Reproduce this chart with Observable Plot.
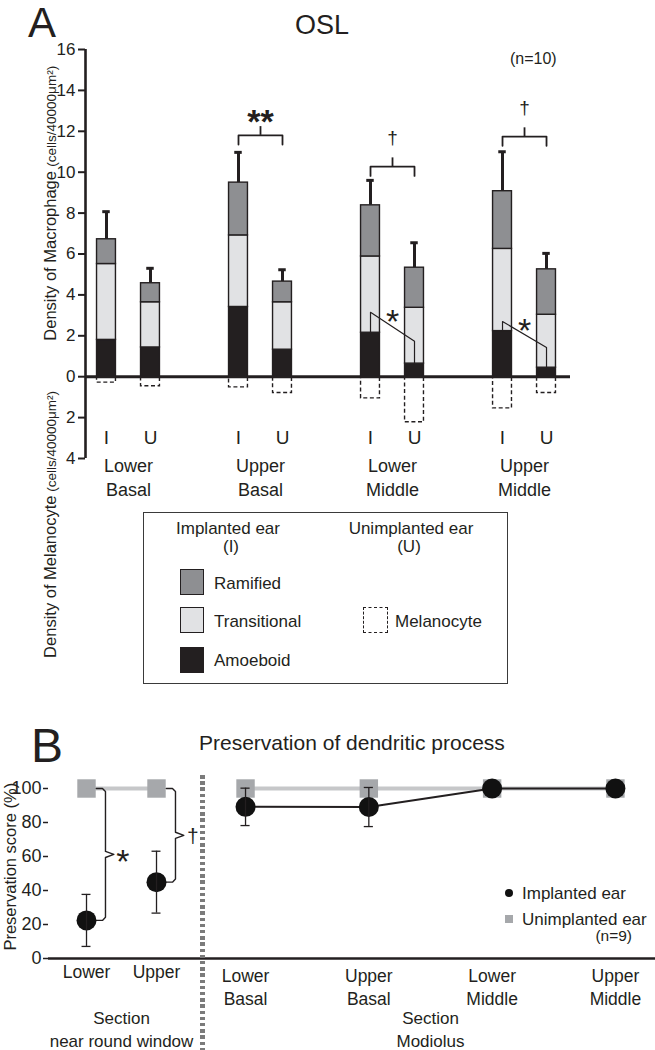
<!DOCTYPE html>
<html>
<head>
<meta charset="utf-8">
<script src="https://cdn.jsdelivr.net/npm/d3@7"></script>
<script src="https://cdn.jsdelivr.net/npm/@observablehq/plot@0.6"></script>
<style>
  body { margin: 0; background: #fff; }
  #root { position: relative; width: 655px; height: 1050px; overflow: hidden; background: #fff;
          font-family: "Liberation Sans", Arial, Helvetica, sans-serif; color: #231f20; }
  .abs { position: absolute; white-space: nowrap; line-height: 1; }
  .ctr { text-align: center; width: 220px; }
  .sw { position: absolute; box-sizing: border-box; width: 24px; height: 26px; border: 1.5px solid #231f20; }
</style>
</head>
<body>
<div id="root"></div>
<script>
// ---------------- Panel A data ----------------
const regions = ["Lower Basal", "Upper Basal", "Lower Middle", "Upper Middle"];
const ears = ["I", "U"];
const types = ["Amoeboid", "Transitional", "Ramified"];
const typeColors = ["#231f20", "#e1e2e4", "#8e8f92"];
// bar order: LB-I, LB-U, UB-I, UB-U, LM-I, LM-U, UM-I, UM-U
const amoeboid     = [1.80, 1.43, 3.41, 1.32, 2.15, 0.64, 2.23, 0.44];
const transitional = [3.71, 2.21, 3.50, 2.32, 3.73, 2.73, 4.02, 2.59];
const ramified     = [1.21, 0.93, 2.58, 1.01, 2.50, 1.96, 2.82, 2.22];
const macroSem     = [1.35, 0.73, 1.48, 0.58, 1.22, 1.22, 1.93, 0.78];
const melanocyte   = [0.29, 0.47, 0.52, 0.80, 1.06, 2.23, 1.55, 0.80];
const yTicksA = [-4, -2, 0, 2, 4, 6, 8, 10, 12, 14, 16];
// significance annotations (panel A)
const bracketRegions = ["Upper Basal", "Lower Middle", "Upper Middle"];
const bracketLevel   = [11.8, 10.27, 11.74];
const bracketMark    = ["**", "\u2020", "\u2020"];
const bracketMarkY   = [13.1, 12.03, 13.5];
const innerRegions   = ["Lower Middle", "Upper Middle"];
const innerLevelI    = [3.15, 2.7];
const innerLevelU    = [1.73, 1.43];
const innerStarY     = [3.33, 2.89];

// ---------------- Panel B data ----------------
const rwSections = ["Lower", "Upper"];
const rwImplanted = [22.4, 44.9];
const rwImplantedSem = [15.3, 18.2];
const rwUnimplanted = [100, 100];
const modSections = ["Lower Basal", "Upper Basal", "Lower Middle", "Upper Middle"];
const modImplanted = [89.2, 89.1, 100, 100];
const modImplantedSem = [11, 11.5, 0, 0];
const modUnimplanted = [100, 100, 100, 100];
const yTicksB = [0, 20, 40, 60, 80, 100];
const rwSigMark = ["*", "\u2020"];
const rwSigMarkY = [64.7, 77];

// ---------------- helpers ----------------
const REG = "'Liberation Sans', Arial, Helvetica, sans-serif";
const INK = "#231f20";
const posOf = (region, ear) => regions.indexOf(region) * 3 + ears.indexOf(ear);

const bars = [];
regions.forEach((r, ri) => ears.forEach((e, ei) => {
  const k = ri * 2 + ei;
  const b = {region: r, ear: e, pos: posOf(r, e), amo: amoeboid[k], tra: transitional[k], ram: ramified[k],
             sem: macroSem[k], mel: melanocyte[k]};
  b.total = b.amo + b.tra + b.ram;
  bars.push(b);
}));
const segs = bars.flatMap(b => {
  let acc = 0;
  return [[types[0], b.amo], [types[1], b.tra], [types[2], b.ram]].map(([t, v]) => ({pos: b.pos, type: t, y1: acc, y2: (acc += v)}));
});
const HW = 0.215; // half bar width (x units)
const CAP = 0.085;

const brackets = bracketRegions.flatMap((r, i) => {
  const a = posOf(r, "I"), b = posOf(r, "U"), y = bracketLevel[i];
  return [{id: i, x: a, y: y - 0.45}, {id: i, x: a, y}, {id: i, x: b, y}, {id: i, x: b, y: y - 0.45}];
});
const bracketTicks = bracketRegions.map((r, i) => ({x: (posOf(r, "I") + posOf(r, "U")) / 2, y1: bracketLevel[i], y2: bracketLevel[i] + 0.43, mark: bracketMark[i], my: bracketMarkY[i]}));
const inner = innerRegions.flatMap((r, i) => {
  const bI = bars.find(b => b.region === r && b.ear === "I");
  const bU = bars.find(b => b.region === r && b.ear === "U");
  return [{id: i, x: bI.pos, y: bI.amo}, {id: i, x: bI.pos, y: innerLevelI[i]}, {id: i, x: bU.pos, y: innerLevelU[i]}, {id: i, x: bU.pos, y: bU.amo}];
});
const innerStars = innerRegions.map((r, i) => ({x: (posOf(r, "I") + posOf(r, "U")) / 2, y: innerStarY[i]}));

const xDomA = [-0.477, 10.545];

const styleBase = {fontFamily: REG, fontSize: "17px", color: INK, background: "transparent", overflow: "visible"};

const plotA = Plot.plot({
  width: 655, height: 700,
  marginLeft: 85, marginRight: 85, marginTop: 49, marginBottom: 242,
  x: {domain: xDomA, axis: null},
  y: {domain: [-4, 16], axis: null},
  color: {domain: types, range: typeColors},
  style: styleBase,
  marks: [
    Plot.axisY({ticks: yTicksA, tickFormat: d => Math.abs(d), tickSize: 7, tickPadding: 3, fontSize: 17, strokeWidth: 2, label: null}),
    Plot.ruleX([xDomA[0]], {y1: -4, y2: 16, strokeWidth: 2.6, stroke: INK}),
    // melanocyte (dashed, below zero)
    Plot.rect(bars, {x1: d => d.pos - HW, x2: d => d.pos + HW, y1: 0, y2: d => -d.mel, fill: "none", stroke: INK, strokeWidth: 1.4, strokeDasharray: "4,2.6"}),
    // error bars
    Plot.ruleX(bars, {x: "pos", y1: "total", y2: d => d.total + d.sem, strokeWidth: 3, stroke: INK}),
    Plot.ruleY(bars, {y: d => d.total + d.sem, x1: d => d.pos - CAP, x2: d => d.pos + CAP, strokeWidth: 3, stroke: INK}),
    // stacked macrophage bars
    Plot.rect(segs, {x1: d => d.pos - HW, x2: d => d.pos + HW, y1: "y1", y2: "y2", fill: "type", stroke: INK, strokeWidth: 1.4}),
    Plot.ruleY([0], {strokeWidth: 3, stroke: INK}),
    // brackets
    Plot.line(brackets, {x: "x", y: "y", z: "id", stroke: INK, strokeWidth: 1.8}),
    Plot.ruleX(bracketTicks, {x: "x", y1: "y1", y2: "y2", stroke: INK, strokeWidth: 1.8}),
    Plot.text(bracketTicks.filter(d => d.mark === "**"), {x: "x", y: "my", text: "mark", fontSize: 34, fontWeight: "bold", lineAnchor: "top"}),
    Plot.text(bracketTicks.filter(d => d.mark !== "**"), {x: "x", y: "my", text: "mark", fontSize: 19, lineAnchor: "top"}),
    // inner amoeboid comparisons
    Plot.line(inner, {x: "x", y: "y", z: "id", stroke: INK, strokeWidth: 1.2}),
    Plot.text(innerStars, {x: "x", y: "y", text: () => "*", fontSize: 34, lineAnchor: "top"}),
    // labels
    Plot.text(bars, {x: "pos", y: -3, text: "ear", fontSize: 19, lineAnchor: "middle"}),
    Plot.text(regions, {x: (d, i) => i * 3 + 0.5, y: -3.85, text: d => d.replace(" ", "\n"), fontSize: 18, lineAnchor: "top", lineHeight: 1.33}),
    Plot.text(["(n=10)"], {x: 9.7, y: 15.85, text: d => d, fontSize: 16, lineAnchor: "top"}),
    // y-axis titles
    Plot.text(["Density of Macrophage"], {frameAnchor: "left", dx: -30, y: 1.76, text: d => d, rotate: -90, textAnchor: "start", lineAnchor: "bottom", fontSize: 16.5}),
    Plot.text(["(cells/40000\u03bcm\u00b2)"], {frameAnchor: "left", dx: -30, y: 10.27, text: d => d, rotate: -90, textAnchor: "start", lineAnchor: "bottom", fontSize: 13.5}),
    Plot.text(["Density of Melanocyte"], {frameAnchor: "left", dx: -30, y: -13.75, text: d => d, rotate: -90, textAnchor: "start", lineAnchor: "bottom", fontSize: 16.5}),
    Plot.text(["(cells/40000\u03bcm\u00b2)"], {frameAnchor: "left", dx: -30, y: -5.63, text: d => d, rotate: -90, textAnchor: "start", lineAnchor: "bottom", fontSize: 13.5})
  ]
});

// ---------------- Panel B ----------------
const rwRows = rwSections.map((s, i) => ({i, s, imp: rwImplanted[i], sem: rwImplantedSem[i], unimp: rwUnimplanted[i]}));
const modRows = modSections.map((s, i) => ({i, s, imp: modImplanted[i], sem: modImplantedSem[i], unimp: modUnimplanted[i]}));

function brace(id, xc, yTop, yBot) {
  const e = xc + 0.14, v = xc + 0.271, t = xc + 0.39, rx = 0.043, ry = 1.8, yM = (yTop + yBot) / 2;
  return [[e, yTop], [v - rx, yTop], [v, yTop - ry], [v, yM + ry], [t, yM], [v, yM - ry], [v, yBot + ry], [v - rx, yBot], [e, yBot]]
    .map(([x, y]) => ({id, x, y}));
}
const braces = rwRows.flatMap(d => brace(d.i, d.i, d.unimp, d.imp));
const rwMarks = rwRows.map((d, i) => ({x: d.i + 0.52, y: rwSigMarkY[i], m: rwSigMark[i]}));

function capRows(rows) {
  return rows.filter(d => d.sem > 0).flatMap(d => [{i: d.i, y: d.imp - d.sem}, {i: d.i, y: d.imp + d.sem}]);
}

const plotBL = Plot.plot({
  width: 202, height: 280,
  marginLeft: 48, marginRight: 0, marginTop: 18, marginBottom: 92,
  x: {domain: [-0.543, 1.657], axis: null},
  y: {domain: [0, 100], axis: null},
  style: styleBase,
  marks: [
    Plot.axisY({ticks: yTicksB, tickSize: 5, tickPadding: 2, fontSize: 18, strokeWidth: 1.5, label: null}),
    Plot.ruleY([0], {strokeWidth: 2.5, stroke: INK}),
    Plot.line(rwRows, {x: "i", y: "unimp", stroke: "#c6c7c9", strokeWidth: 4}),
    Plot.dot(rwRows, {x: "i", y: "unimp", symbol: "square", r: 10.4, fill: "#a6a8ab"}),
    Plot.line(braces, {x: "x", y: "y", z: "id", stroke: INK, strokeWidth: 1.4}),
    Plot.dot(rwRows, {x: "i", y: "imp", r: 10, fill: "#111"}),
    Plot.ruleX(rwRows, {x: "i", y1: d => d.imp - d.sem, y2: d => d.imp + d.sem, strokeWidth: 1.3, stroke: INK}),
    Plot.ruleY(capRows(rwRows), {y: "y", x1: d => d.i - 0.064, x2: d => d.i + 0.064, strokeWidth: 1.3, stroke: INK}),
    Plot.text(rwMarks.filter(d => d.m === "*"), {x: "x", y: "y", text: "m", fontSize: 34, lineAnchor: "top"}),
    Plot.text(rwMarks.filter(d => d.m !== "*"), {x: "x", y: "y", text: "m", fontSize: 21, lineAnchor: "top"}),
    Plot.text(rwRows, {x: "i", y: -4.1, text: "s", fontSize: 17.5, lineAnchor: "top"}),
    Plot.text(["Section\nnear round window"], {x: 0.5, y: -28.9, text: d => d, fontSize: 17, lineAnchor: "top", lineHeight: 1.35}),
    Plot.text(["Preservation score (%)"], {frameAnchor: "left", dx: -33, y: 54, text: d => d, rotate: -90, textAnchor: "middle", lineAnchor: "bottom", fontSize: 16.5})
  ]
});

const plotBR = Plot.plot({
  width: 453, height: 280,
  marginLeft: 0, marginRight: 0, marginTop: 18, marginBottom: 92,
  x: {domain: [-0.349, 3.325], axis: null},
  y: {domain: [0, 100], axis: null},
  style: styleBase,
  marks: [
    Plot.ruleY([0], {strokeWidth: 2.5, stroke: INK}),
    Plot.line(modRows, {x: "i", y: "unimp", stroke: "#c6c7c9", strokeWidth: 4}),
    Plot.dot(modRows, {x: "i", y: "unimp", symbol: "square", r: 10.4, fill: "#a6a8ab"}),
    Plot.line(modRows, {x: "i", y: "imp", stroke: INK, strokeWidth: 2}),
    Plot.dot(modRows, {x: "i", y: "imp", r: 10, fill: "#111"}),
    Plot.ruleX(modRows.filter(d => d.sem > 0), {x: "i", y1: d => d.imp - d.sem, y2: d => d.imp + d.sem, strokeWidth: 1.3, stroke: INK}),
    Plot.ruleY(capRows(modRows), {y: "y", x1: d => d.i - 0.037, x2: d => d.i + 0.037, strokeWidth: 1.3, stroke: INK}),
    Plot.text(modRows, {x: "i", y: -4.1, text: d => d.s.replace(" ", "\n"), fontSize: 17.5, lineAnchor: "top", lineHeight: 1.33}),
    Plot.text(["Section\nModiolus"], {x: 1.5, y: -28.9, text: d => d, fontSize: 17, lineAnchor: "top", lineHeight: 1.35})
  ]
});

// ---------------- assemble ----------------
const root = document.getElementById("root");
function place(node, left, top, w) {
  const d = document.createElement("div");
  d.style.position = "absolute"; d.style.left = left + "px"; d.style.top = top + "px";
  if (w) d.style.width = w + "px";
  d.appendChild(node); root.appendChild(d); return d;
}
place(plotA, 0, 0, 655);
place(plotBL, 0, 770, 202);
place(plotBR, 202, 770, 453);

function html(str) { const t = document.createElement("template"); t.innerHTML = str.trim(); return t.content.firstChild; }
const overlay = [
  `<div class="abs" style="left:28px;top:1.5px;font-size:42px;">A</div>`,
  `<div class="abs ctr" style="left:212px;top:12px;font-size:27px;">OSL</div>`,
  // legend box
  `<div style="position:absolute;left:143px;top:512px;width:365px;height:172px;box-sizing:border-box;border:1.5px solid #3a3a3a;"></div>`,
  `<div class="abs ctr" style="left:118px;top:519.5px;font-size:17px;">Implanted ear</div>`,
  `<div class="abs ctr" style="left:121px;top:538px;font-size:17px;">(I)</div>`,
  `<div class="abs ctr" style="left:301px;top:519.5px;font-size:17px;">Unimplanted ear</div>`,
  `<div class="abs ctr" style="left:299px;top:538px;font-size:17px;">(U)</div>`,
  `<div class="sw" style="left:180px;top:569px;background:${typeColors[2]};"></div>`,
  `<div class="sw" style="left:180px;top:607px;background:${typeColors[1]};"></div>`,
  `<div class="sw" style="left:180px;top:647px;background:${typeColors[0]};"></div>`,
  `<div class="sw" style="left:363px;top:607px;border:1.5px dashed #231f20;width:25px;"></div>`,
  `<div class="abs" style="left:214px;top:574.7px;font-size:17px;">${types[2]}</div>`,
  `<div class="abs" style="left:214px;top:613px;font-size:17px;">${types[1]}</div>`,
  `<div class="abs" style="left:214px;top:652px;font-size:17px;">${types[0]}</div>`,
  `<div class="abs" style="left:395px;top:613px;font-size:17px;">Melanocyte</div>`,
  // panel B header
  `<div class="abs" style="left:31px;top:722px;font-size:48px;">B</div>`,
  `<div class="abs" style="left:199px;top:732px;font-size:21px;">Preservation of dendritic process</div>`,
  // divider
  `<div style="position:absolute;left:200px;top:775px;width:4.5px;height:275px;background:repeating-linear-gradient(to bottom,#7b7b7b 0 3.5px,transparent 3.5px 6.2px);"></div>`,
  // panel B legend
  `<div style="position:absolute;left:504.7px;top:888.7px;width:8.6px;height:8.6px;border-radius:50%;background:#111;"></div>`,
  `<div style="position:absolute;left:504.7px;top:914.7px;width:8.6px;height:8.6px;background:#a6a8ab;"></div>`,
  `<div class="abs" style="left:522px;top:884.7px;font-size:17px;">Implanted ear</div>`,
  `<div class="abs" style="left:522px;top:910.7px;font-size:17px;">Unimplanted ear</div>`,
  `<div class="abs" style="right:23px;top:928px;font-size:15.5px;">(n=9)</div>`
];
overlay.forEach(s => root.appendChild(html(s)));
</script>
</body>
</html>
